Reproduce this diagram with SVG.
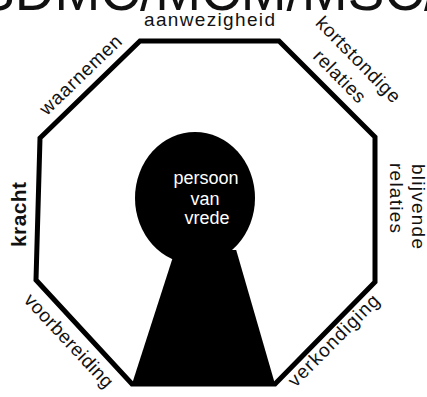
<svg xmlns="http://www.w3.org/2000/svg" width="427" height="397" viewBox="0 0 427 397">
  <style>
    .lbl { font-family: "Liberation Sans", Arial, sans-serif; font-size: 19px; fill: #111; }
    .bold { font-weight: bold; font-size: 21px; }
    .inner { font-family: "Liberation Sans", Arial, sans-serif; font-size: 18px; fill: #fff; text-anchor: middle; }
    .edge { fill: none; stroke: #000; stroke-width: 5; stroke-linejoin: miter; }
  </style>
  <rect width="427" height="397" fill="#fff"/>
  <g id="header">
    <text x="-22" y="10" font-family="Liberation Sans, Arial, sans-serif" font-size="55" fill="#111">SDMC/MCM/MSC/MCSC/</text>
  </g>
  <g id="octagon">
    <path class="edge" d="M140,41 L279,41 L375,137 L375,282 L275,384 L132,384 L36,280 L40,138 Z"/>
  </g>
  <g id="keyhole">
    <ellipse cx="195" cy="198" rx="60" ry="66" fill="#000"/>
    <polygon points="175.2,250 236.2,250 275,384 132,384" fill="#000"/>
    <text class="inner" x="206" y="184">persoon</text>
    <text class="inner" x="205" y="205">van</text>
    <text class="inner" x="207" y="224">vrede</text>
  </g>
  <g id="label-aanwezigheid">
    <text class="lbl" x="209.5" y="26" text-anchor="middle" textLength="131" lengthAdjust="spacing">aanwezigheid</text>
  </g>
  <g id="label-kortstondige-relaties">
    <text class="lbl" transform="translate(353.7,64) rotate(45.6)" text-anchor="middle" textLength="112" lengthAdjust="spacing">kortstondige</text>
    <text class="lbl" transform="translate(335.1,80.8) rotate(45.6)" text-anchor="middle" textLength="66" lengthAdjust="spacing">relaties</text>
  </g>
  <g id="label-blijvende-relaties">
    <text class="lbl" transform="translate(412,164) rotate(90)" textLength="85" lengthAdjust="spacing">blijvende</text>
    <text class="lbl" transform="translate(390,163) rotate(90)" textLength="70" lengthAdjust="spacing">relaties</text>
  </g>
  <g id="label-verkondiging">
    <text class="lbl" transform="translate(338.1,344.9) rotate(-45.3)" text-anchor="middle" textLength="121" lengthAdjust="spacing">verkondiging</text>
  </g>
  <g id="label-voorbereiding">
    <text class="lbl" transform="translate(64.2,345) rotate(47)" text-anchor="middle" textLength="121" lengthAdjust="spacing">voorbereiding</text>
  </g>
  <g id="label-kracht">
    <text class="lbl bold" transform="translate(26,214.5) rotate(-90)" text-anchor="middle" textLength="65" lengthAdjust="spacing">kracht</text>
  </g>
  <g id="label-waarnemen">
    <text class="lbl" transform="translate(85,79.5) rotate(-43.8)" text-anchor="middle" textLength="106" lengthAdjust="spacing">waarnemen</text>
  </g>
</svg>
